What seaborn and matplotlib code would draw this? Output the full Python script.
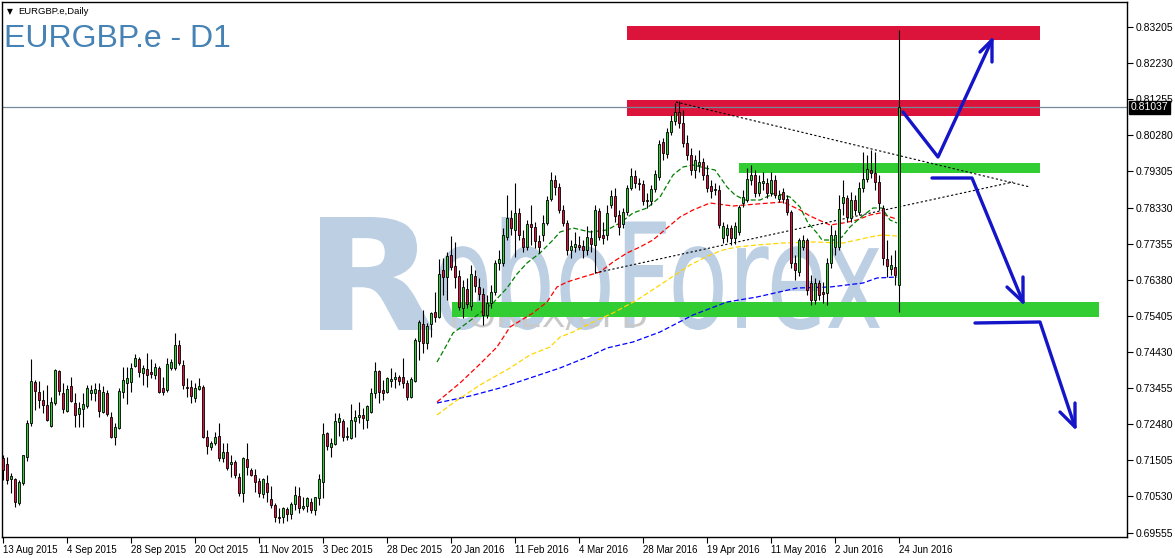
import matplotlib
matplotlib.use("Agg")
import matplotlib.pyplot as plt
import seaborn as sns
from matplotlib.patches import Rectangle, PathPatch
from matplotlib.textpath import TextPath
from matplotlib.font_manager import FontProperties
from matplotlib.transforms import Affine2D, blended_transform_factory

# ---- EURGBP.e daily candles, 13 Aug 2015 .. 24 Jun 2016 ----
opens = [
    .71568, .71406, .71001, .71001, .70353, .70893, .71595, .72513, .73620, .73350,
    .73134, .72999, .72432, .73053, .73917, .73323, .72837, .73512, .73053, .72756,
    .72891, .72972, .73323, .73323, .73404, .72810, .73323, .72675, .72135, .72378,
    .73350, .73593, .73620, .74052, .74241, .73863, .73971, .73890, .73809, .73998,
    .73458, .73404, .73998, .73998, .74619, .74079, .73485, .73485, .73188, .73431,
    .73485, .72135, .71865, .71973, .72162, .71568, .71730, .71406, .71460, .71055,
    .70623, .71541, .71244, .71109, .70947, .70596, .70893, .70461, .70299, .69975,
    .69975, .70191, .70056, .70326, .70542, .70218, .70272, .70380, .70164, .70488,
    .70920, .72243, .71865, .71946, .72540, .72567, .72135, .72108, .72567, .72675,
    .72729, .72594, .72810, .73323, .73917, .73404, .73350, .73647, .73701, .73755,
    .73755, .73593, .73215, .73647, .74727, .75186, .74673, .75186, .75510, .75375,
    .76644, .76455, .77049, .76752, .76482, .75618, .76131, .75672, .76482, .76185,
    .75996, .75429, .75753, .76050, .76833, .76833, .77535, .78048, .77724, .78183,
    .77508, .77265, .77886, .77805, .77427, .77589, .77913, .78561, .79074, .78885,
    .78264, .77913, .77184, .77265, .77319, .77292, .77184, .77508, .77319, .78237,
    .77589, .77589, .78399, .78642, .78129, .77886, .78210, .78858, .79182, .78993,
    .78966, .78507, .78507, .78831, .79155, .80100, .79776, .80370, .80667, .80910,
    .80613, .80073, .79749, .79344, .79479, .79560, .79209, .78912, .78804, .78804,
    .77508, .77589, .77778, .77508, .77670, .78453, .78534, .79074, .79209, .78723,
    .78993, .78993, .78723, .79074, .78561, .78750, .78561, .78210, .76833, .76590,
    .77265, .77454, .76293, .75834, .76293, .76050, .76023, .76833, .77265, .77265,
    .78453, .78588, .78048, .78534, .78210, .78858, .79101, .79344, .79263, .79020,
    .78318, .76941, .76671, .76725, .76239,
]
highs = [
    .71649, .71595, .71163, .71028, .70974, .71649, .72594, .74241, .73674, .73647,
    .73404, .73539, .73215, .73971, .73944, .73593, .73539, .73755, .73323, .73080,
    .73323, .73539, .73539, .73593, .73593, .73512, .73404, .72810, .72513, .73458,
    .74025, .74025, .74133, .74376, .74295, .74079, .74403, .74241, .74133, .74052,
    .73755, .74268, .74241, .74943, .74754, .74214, .73728, .73674, .73593, .73728,
    .73539, .72324, .72027, .72270, .72513, .71973, .71973, .71649, .71514, .71163,
    .71595, .71973, .71298, .71271, .71028, .71028, .71109, .70812, .70353, .70218,
    .70245, .70245, .70380, .70812, .70785, .70515, .70515, .70488, .70515, .71136,
    .72513, .72270, .72108, .72783, .72783, .72621, .72405, .73026, .72864, .73080,
    .72918, .72999, .73458, .74160, .73944, .73674, .73755, .73989, .73890, .73809,
    .74268, .73674, .73755, .74808, .75294, .75564, .75213, .75510, .76050, .76941,
    .76968, .77130, .77562, .77400, .76644, .76374, .76428, .76779, .76644, .76428,
    .76158, .75969, .76239, .76914, .77184, .77778, .78669, .78264, .78993, .78318,
    .77724, .77994, .78399, .77940, .77589, .78129, .78642, .79290, .79209, .78993,
    .78399, .77994, .77454, .77670, .77562, .77454, .77832, .77724, .78399, .78318,
    .77940, .78399, .78804, .78858, .78264, .78318, .78939, .79398, .79344, .79128,
    .79074, .78723, .78939, .79344, .80154, .80208, .80478, .80829, .81153, .81207,
    .80964, .80289, .79938, .79749, .79884, .79668, .79479, .79074, .78993, .78939,
    .77940, .77886, .77859, .77940, .78399, .78804, .79398, .79479, .79344, .79209,
    .79290, .79128, .79290, .79209, .78804, .78858, .78669, .78264, .77049, .77508,
    .77589, .77508, .76509, .76428, .76374, .76320, .76968, .77859, .77724, .78669,
    .79074, .78669, .78750, .78669, .79020, .79830, .79749, .79884, .79830, .79209,
    .78399, .77454, .77049, .77184, .83124,
]
lows = [
    .70974, .70866, .70623, .70245, .70299, .70839, .71487, .72432, .72864, .72918,
    .72783, .72567, .72405, .72999, .73269, .72783, .72810, .73080, .72405, .72405,
    .72405, .72918, .73134, .73107, .72675, .72783, .72702, .72108, .71919, .72351,
    .73188, .73026, .73350, .74025, .73755, .73539, .73485, .73728, .73701, .73323,
    .73269, .73350, .73944, .73944, .74079, .73431, .73215, .73053, .73080, .73404,
    .72108, .71676, .71784, .71919, .71487, .71460, .71244, .71055, .71028, .70542,
    .70380, .71109, .71082, .70650, .70515, .70488, .70380, .70218, .69840, .69813,
    .69813, .69867, .69921, .70164, .70083, .70164, .70110, .70083, .70029, .70299,
    .70488, .71784, .71595, .71919, .72162, .72027, .72054, .72081, .72135, .72513,
    .72351, .72378, .72783, .73188, .73053, .73134, .73323, .73485, .73458, .73539,
    .73458, .73134, .73188, .73620, .74214, .74403, .74511, .74835, .75240, .75348,
    .75969, .75834, .76644, .76158, .75564, .75348, .75618, .75564, .76050, .75834,
    .75159, .75348, .75618, .75969, .76644, .76752, .77454, .77589, .76995, .77454,
    .77130, .77184, .77319, .77238, .77103, .77427, .77859, .78507, .78669, .78183,
    .77832, .77049, .76968, .77130, .77184, .76968, .77049, .77130, .76563, .77454,
    .77346, .77454, .78318, .77940, .77589, .77778, .78129, .78804, .78858, .78804,
    .78399, .78318, .78399, .78750, .79074, .79614, .79668, .80289, .80559, .80478,
    .79965, .79614, .79209, .79128, .79290, .79074, .78750, .78588, .78669, .77778,
    .77373, .77400, .77319, .77346, .77589, .78345, .78480, .78939, .78615, .78642,
    .78804, .78588, .78642, .78588, .78480, .78453, .78129, .76698, .76374, .76482,
    .77184, .75969, .75699, .75726, .75834, .75753, .75699, .76698, .77049, .77184,
    .78129, .77940, .77940, .78129, .78129, .78750, .79020, .79128, .78804, .78264,
    .76779, .76455, .76509, .76239, .75510,
]
closes = [
    .71244, .70974, .71082, .70380, .70920, .71649, .72513, .73647, .73377, .73134,
    .72999, .72594, .73080, .73944, .73377, .72891, .73431, .73107, .72729, .72918,
    .73026, .73458, .73404, .73431, .72837, .73350, .72756, .72135, .72405, .73377,
    .73674, .73728, .73989, .74268, .73890, .73998, .73809, .73836, .74025, .73350,
    .73350, .74106, .74160, .74619, .74133, .73539, .73458, .73242, .73458, .73512,
    .72135, .71892, .71973, .72135, .71568, .71730, .71298, .71460, .71109, .70623,
    .71568, .71325, .71109, .70920, .70623, .71001, .70650, .70299, .69975, .69948,
    .70218, .70056, .70326, .70569, .70218, .70272, .70488, .70164, .70515, .71001,
    .72216, .71892, .71973, .72567, .72648, .72135, .72162, .72594, .72675, .72729,
    .72648, .72972, .73323, .73917, .73350, .73323, .73728, .73701, .73755, .73647,
    .73593, .73215, .73701, .74754, .75240, .74673, .75132, .75483, .75375, .76536,
    .76455, .77022, .76725, .76455, .75645, .76185, .75726, .76536, .76212, .75996,
    .75429, .75753, .76050, .76833, .76941, .77589, .78048, .77778, .78183, .77589,
    .77265, .77886, .77805, .77427, .77265, .77913, .78534, .79074, .78885, .78264,
    .77913, .77184, .77292, .77346, .77265, .77184, .77535, .77346, .78264, .77535,
    .77508, .78183, .78642, .78102, .77805, .78210, .78858, .79182, .78993, .78966,
    .78507, .78534, .78831, .79236, .80046, .79803, .80370, .80667, .80910, .80613,
    .80073, .79749, .79344, .79614, .79560, .79209, .78858, .78777, .78831, .77859,
    .77832, .77778, .77508, .77832, .78345, .78615, .79101, .79209, .78723, .79020,
    .79047, .78723, .79074, .78669, .78669, .78561, .78210, .76833, .76644, .77454,
    .77454, .76104, .75834, .76293, .75969, .75996, .76833, .77589, .77589, .78291,
    .78615, .78075, .78534, .78264, .78858, .79101, .79371, .79263, .79020, .78453,
    .76968, .76752, .76779, .76509, .81037,
]
last_price = 0.81037

date_labels = ["13 Aug 2015", "4 Sep 2015", "28 Sep 2015", "20 Oct 2015", "11 Nov 2015",
               "3 Dec 2015", "28 Dec 2015", "20 Jan 2016", "11 Feb 2016", "4 Mar 2016",
               "28 Mar 2016", "19 Apr 2016", "11 May 2016", "2 Jun 2016", "24 Jun 2016"]
date_label_bars = [0, 16, 32, 48, 64, 80, 96, 112, 128, 144, 160, 176, 192, 208, 224]
price_ticks = [0.69555, 0.70530, 0.71505, 0.72480, 0.73455, 0.74430, 0.75405, 0.76380,
               0.77355, 0.78330, 0.79305, 0.80280, 0.81255, 0.82230, 0.83205]

# moving averages (bar position, value)
ma_green_bar = [108.5, 110.5, 112.5, 116, 119.25, 122.5, 126, 128.5, 131, 134.25, 137.5, 139.25,
                142.5, 146.75, 151, 154.25, 157.5, 161, 164.25, 167.5, 170, 172.5, 175.5, 178,
                181, 183, 185.5, 189.25, 193, 196.75, 199.25, 201.25, 203.5, 204.75, 208,
                209.75, 211.75, 214.25, 217.5, 219.75, 221.75, 223.5]
ma_green_val = [.74160, .74538, .74943, .75213, .75483, .75753, .76158, .76536, .76833, .77103,
                .77454, .77670, .77778, .77670, .77724, .77913, .78183, .78318, .78615, .79209,
                .79425, .79479, .79398, .79344, .78885, .78669, .78534, .78534, .78723, .78615,
                .78345, .77913, .77643, .77454, .77454, .77535, .77805, .78048, .78318, .78318,
                .77994, .77913]
ma_red_bar = [108.5, 114.25, 119.25, 123.5, 126.75, 132.5, 136, 138.5, 141, 145, 149.25, 152.5,
              156, 159.25, 162.5, 166, 169.25, 172.5, 176.75, 182.5, 188.5, 195, 199.25, 201.75,
              206.75, 210, 213.5, 216.75, 219.25, 221.75, 223.5]
ma_red_val = [.73080, .73593, .74106, .74565, .75105, .75483, .75780, .76185, .76320, .76455,
              .76590, .76860, .77103, .77265, .77454, .77778, .78075, .78264, .78453, .78372,
              .78426, .78480, .78264, .78102, .77859, .77913, .77994, .78129, .78183, .78075,
              .78021]
ma_yellow_bar = [108.5, 112.5, 119.25, 126.75, 131.75, 136.75, 139.25, 142.5, 147.5, 152.5,
                 158.5, 165, 171.75, 176.75, 180, 183.5, 188.5, 195, 202.5, 210, 213.5,
                 216.75, 219.75, 223.5]
ma_yellow_val = [.72729, .73053, .73539, .73998, .74349, .74565, .74835, .74970, .75240, .75483,
                 .75834, .76293, .76779, .77049, .77184, .77265, .77319, .77373, .77400, .77373,
                 .77454, .77535, .77589, .77562]
ma_blue_bar = [108.5, 116.75, 124.25, 131.75, 139.25, 146.75, 151, 157.5, 164.25, 172.5, 181,
               188.5, 198.5, 206.75, 215, 218.5, 223.5]
ma_blue_val = [.73053, .73242, .73458, .73728, .73998, .74322, .74538, .74700, .74970, .75429,
               .75780, .75915, .76158, .76185, .76293, .76428, .76455]

# triangle trend lines (bar, price)
trend_upper = [(168.25, .81180), (256.75, .78885)]
trend_lower = [(148, .76563), (252.5, .79020)]

# supply / demand zones: (first bar, last bar, low, high)
zones_red = [(156, 259.25, .82854, .83232), (156, 259.25, .80802, .81234)]
zones_green = [(184, 259.25, .79263, .79533), (112.25, 274, .75375, .75780)]

# hand-drawn scenario arrows (bar, price)
arrow_paths = [
    [(225, .80910), (233.75, .79695), (247.25, .82854)],
    [(232.25, .79128), (242.25, .79128), (255, .75780)],
    [(243, .75213), (259.25, .75240), (268, .72405)],
]
arrow_heads = [
    [(244.25, .82530), (247.25, .82854), (247.25, .82260)],
    [(251, .76185), (255, .75780), (255, .76455)],
    [(264.25, .72810), (268, .72405), (268, .73053)],
]

# ---- figure ----
W, H = 1175, 558
sns.set_theme(style="white")
plt.rcParams["font.family"] = ["Liberation Sans", "DejaVu Sans"]

fig = plt.figure(figsize=(W / 100, H / 100), dpi=100)
ax = fig.add_axes([2 / W, 21 / H, 1125 / W, 535 / H])
ax.set_facecolor("white")


def stamp(text, box, color, weight="bold"):
    # watermark text stretched into a pixel box (left, top, right, bottom)
    x0, y0, x1, y1 = box
    path = TextPath((0, 0), text, size=100,
                    prop=FontProperties(family="DejaVu Sans", weight=weight))
    ext = path.get_extents()
    tr = (Affine2D().translate(-ext.x0, -ext.y0)
          .scale((x1 - x0) / ext.width / W, (y1 - y0) / ext.height / H)
          .translate(x0 / W, 1 - y1 / H))
    ax.add_patch(PathPatch(path, transform=tr + fig.transFigure, facecolor=color,
                           edgecolor="none", zorder=0.3))


stamp("R", (320, 217, 433, 330), "#bccfe3")
stamp("oboForex", (438, 217, 880, 330), "#bccfe3", weight="normal")
stamp("FOREX/CFD", (452, 304, 646, 330), "#c9c9c9", weight="normal")

# zones
for x0, x1, lo, hi in zones_red:
    ax.add_patch(Rectangle((x0, lo), x1 - x0, hi - lo, facecolor="#dc143c",
                           edgecolor="none", zorder=1))
for x0, x1, lo, hi in zones_green:
    ax.add_patch(Rectangle((x0, lo), x1 - x0, hi - lo, facecolor="#32cd32",
                           edgecolor="none", zorder=1))

# current price line
ax.axhline(last_price, color="#778899", lw=0.9, zorder=1.5)

# moving averages
for xs, ys, col in [(ma_blue_bar, ma_blue_val, "#0000ff"),
                    (ma_yellow_bar, ma_yellow_val, "#ffd700"),
                    (ma_red_bar, ma_red_val, "#ff0000"),
                    (ma_green_bar, ma_green_val, "#008000")]:
    sns.lineplot(x=xs, y=ys, ax=ax, color=col, lw=0.9, linestyle=(0, (4, 2)), zorder=2)

# trend lines
for line in (trend_upper, trend_lower):
    sns.lineplot(x=[p[0] for p in line], y=[p[1] for p in line], ax=ax,
                 color="black", lw=0.8, linestyle=(0, (2, 2)), zorder=2)

# candles
idx = list(range(len(closes)))
ax.vlines(idx, lows, highs, color="black", lw=0.8, zorder=3)
bottoms = [min(o, c) for o, c in zip(opens, closes)]
heights = [max(abs(c - o), 0.00004) for o, c in zip(opens, closes)]
colors = ["#32cd32" if c >= o else "#dc143c" for o, c in zip(opens, closes)]
ax.bar(idx, heights, bottom=bottoms, width=0.72, color=colors,
       edgecolor="black", linewidth=0.6, zorder=4)

# arrows
for path in arrow_paths + arrow_heads:
    ax.plot([p[0] for p in path], [p[1] for p in path], color="#1414c8", lw=2.4,
            solid_capstyle="round", solid_joinstyle="round", zorder=5)

# axes
ax.set_xlim(-0.25, 281)
ax.set_ylim(0.69435, 0.83880)
ax.set_xlabel("")
ax.set_ylabel("")
ax.set_xticks(date_label_bars)
ax.set_xticklabels(date_labels)
for lab in ax.get_xticklabels():
    lab.set_ha("left")
ax.set_yticks(price_ticks)
ax.set_yticklabels([f"{v:.5f}" for v in price_ticks])
ax.yaxis.tick_right()
ax.tick_params(axis="y", direction="out", length=4, width=0.8, pad=2,
               labelsize=7.5, colors="black", right=True, left=False)
ax.tick_params(axis="x", direction="out", length=4, width=0.8, pad=1.5,
               labelsize=7, colors="black", bottom=True)
for sp in ax.spines.values():
    sp.set_color("black")
    sp.set_linewidth(1)
    sp.set_visible(True)

# current price tag
tr = blended_transform_factory(ax.transAxes, ax.transData)
ax.text(1 + 4 / 1125, last_price, f"{last_price:.5f}", transform=tr, ha="left",
        va="center", fontsize=7.5, color="white", zorder=10, clip_on=False,
        bbox=dict(facecolor="black", edgecolor="black", pad=1.2))

# titles
fig.text(7 / W, 1 - 12 / H, "\u25bc", fontsize=5.5, va="center",
         family="DejaVu Sans", color="black")
fig.text(18 / W, 1 - 11 / H, "EURGBP.e,Daily", fontsize=6.8, va="center", color="black")
fig.text(4 / W, 1 - 47 / H, "EURGBP.e - D1", fontsize=23, va="baseline", color="#4682b4")

fig.savefig("out.png", dpi=100)
